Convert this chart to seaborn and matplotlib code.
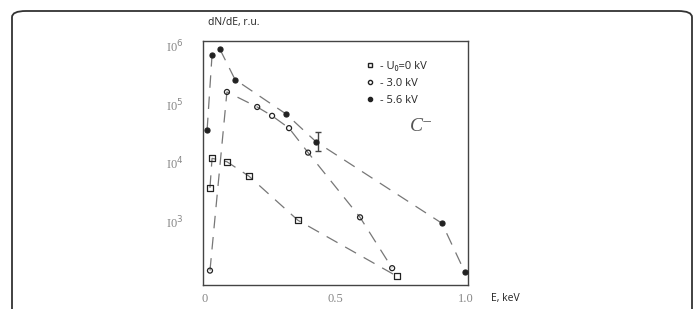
import seaborn as sns
import matplotlib
matplotlib.use("Agg")
import matplotlib.pyplot as plt
from matplotlib.lines import Line2D
from matplotlib.patches import FancyBboxPatch
import pandas as pd

# energy (keV) and dN/dE (r.u.)
e_0kv = [0.019, 0.027, 0.084, 0.168, 0.356, 0.736]
n_0kv = [3800, 12000, 10500, 6000, 1070, 120]

e_3kv = [0.019, 0.084, 0.200, 0.257, 0.322, 0.395, 0.594, 0.717]
n_3kv = [150, 160000, 89000, 63000, 39000, 15000, 1200, 165]

e_56kv = [0.008, 0.027, 0.057, 0.115, 0.310, 0.425, 0.908, 0.996]
n_56kv = [36000, 680000, 850000, 260000, 68000, 23000, 950, 140]

legend_labels = ["- U\u2080=0 kV", "- 3.0 kV", "- 5.6 kV"]
y_ticks = [1e3, 1e4, 1e5, 1e6]
y_tick_labels = ["I0$^{3}$", "I0$^{4}$", "I0$^{5}$", "I0$^{6}$"]
x_ticks = [0, 0.5, 1.0]
x_tick_labels = ["0", "0.5", "1.0"]

sns.set_style("white")
plt.rcParams['font.family'] = ['Open Sans', 'DejaVu Sans']

fig = plt.figure(figsize=(6.97, 3.09), dpi=100)

# rounded outer frame (runs off the bottom of the image)
frame = FancyBboxPatch((12 / 697, -0.2), 680 / 697, 1.2 - 11 / 309,
                       boxstyle="round,pad=0,rounding_size=0.02",
                       transform=fig.transFigure, fill=False,
                       edgecolor="#333333", linewidth=1.3)
fig.patches.append(frame)

ax = fig.add_axes([203 / 697, 1 - 285 / 309, 265 / 697, 244 / 309])

series = [
    (e_0kv, n_0kv, "s", "none"),
    (e_3kv, n_3kv, "o", "none"),
    (e_56kv, n_56kv, "o", "#222222"),
]
ink = "#444444"
for e, n, marker, face in series:
    df = pd.DataFrame({"E": e, "N": n})
    sns.lineplot(data=df, x="E", y="N", ax=ax, color="#777777", linewidth=0.9,
                 linestyle=(0, (10, 7)), sort=True)
    size = 20 if marker == "s" else 13
    sns.scatterplot(data=df, x="E", y="N", ax=ax, marker=marker, s=size,
                    facecolor=face, edgecolor="#222222", linewidth=0.9, zorder=3)

# error bar on the 5.6 kV point near 0.43 keV
ax.errorbar([e_56kv[5] + 0.008], [n_56kv[5]], yerr=[[7000], [10000]],
            fmt="none", ecolor=ink, elinewidth=1.0, capsize=2)

ax.set_yscale("log")
ax.set_xlim(-0.0077, 1.0077)
ax.set_ylim(10 ** 1.932, 10 ** 6.068)
ax.set_yticks(y_ticks)
ax.set_yticklabels(y_tick_labels, family="Liberation Serif", color="#888888", fontsize=9)
ax.yaxis.set_minor_locator(matplotlib.ticker.NullLocator())
ax.set_xticks(x_ticks)
ax.set_xticklabels(x_tick_labels, family="Liberation Serif", color="#888888", fontsize=9)
ax.set_xticks([0.3, 0.75], minor=True)
ax.tick_params(axis="both", which="both", direction="in", length=3, color=ink, pad=6)
ax.tick_params(axis="y", pad=14)
ax.set_xlabel("")
ax.set_ylabel("")
for spine in ax.spines.values():
    spine.set_edgecolor(ink)
    spine.set_linewidth(1.0)

ax.text(0.78, 0.63, "C\u207b", transform=ax.transAxes, fontsize=14,
        color="#555555", family=["Liberation Serif", "DejaVu Sans"], style="italic")

handles = [
    Line2D([], [], marker="s", linestyle="none", markerfacecolor="none",
           markeredgecolor="#222222", markersize=3.5),
    Line2D([], [], marker="o", linestyle="none", markerfacecolor="none",
           markeredgecolor="#222222", markersize=3),
    Line2D([], [], marker="o", linestyle="none", markerfacecolor="#222222",
           markeredgecolor="#222222", markersize=3),
]
ax.legend(handles, legend_labels, loc="upper left", bbox_to_anchor=(0.57, 0.96),
          frameon=False, fontsize=8, handlelength=1.0, handletextpad=0.4,
          labelspacing=0.55)

fig.text(208 / 697, 1 - 23 / 309, "dN/dE, r.u.", fontsize=7.5, va="center", color="#222222")
fig.text(491 / 697, 1 - 298 / 309, "E, keV", fontsize=7.5, va="center", color="#222222")

fig.savefig("out.png", dpi=100)
